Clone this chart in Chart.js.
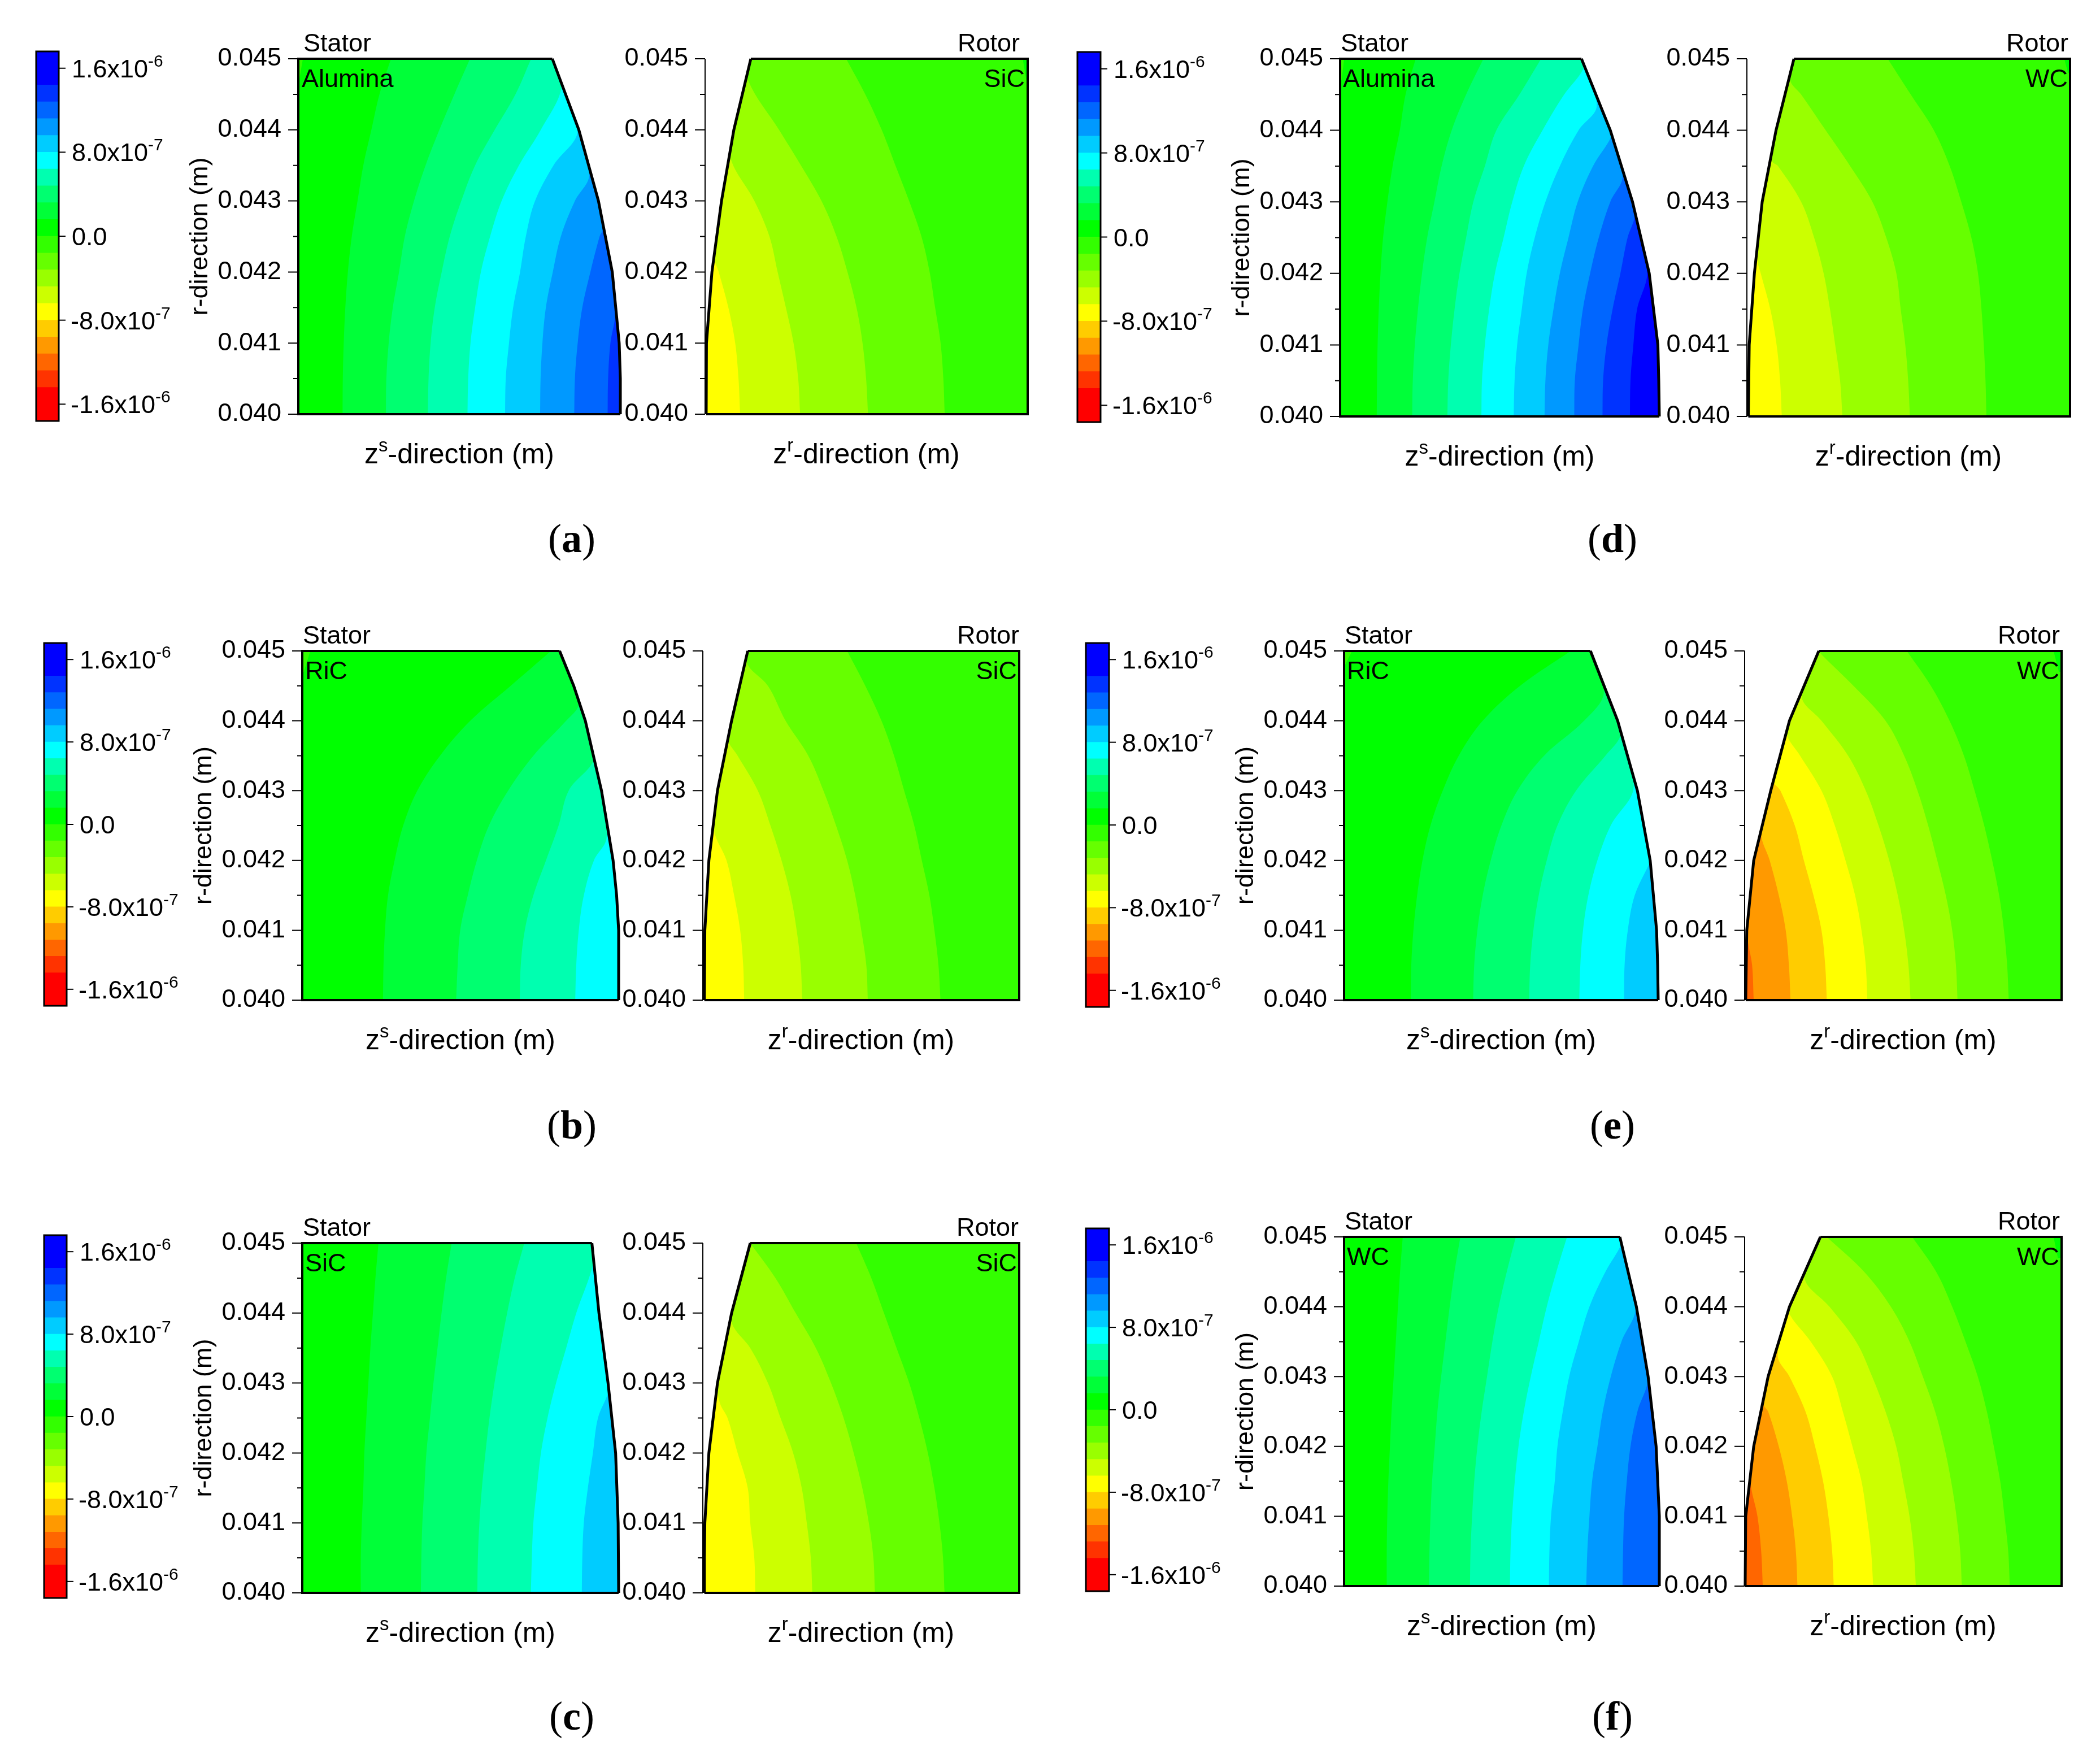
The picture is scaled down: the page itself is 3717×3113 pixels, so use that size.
<!DOCTYPE html>
<html>
<head>
<meta charset="utf-8">
<title>Contours</title>
<script src="https://cdn.jsdelivr.net/npm/chart.js@4"></script>
<style>
html, body { margin: 0; background: #fff; }
#page { position: relative; width: 3717px; height: 3113px; overflow: hidden; background: #fff; }
canvas { position: absolute; }
.cap { position: absolute; transform: translate(-50%, -50%); font: 72px "Liberation Serif"; color: #000; }
</style>
</head>
<body>
<div id="page"></div>
<script>
// colour bar, values in units of 1e-6
const barEdges = [-1.76, -1.44, -1.28, -1.12, -0.96, -0.8, -0.64, -0.48, -0.32, -0.16, 0, 0.16, 0.32, 0.48, 0.64, 0.8, 0.96, 1.12, 1.28, 1.44, 1.76];
const barColors = ["#ff0000", "#ff3300", "#ff6600", "#ff9900", "#ffcc00", "#ffff00", "#ccff00", "#99ff00", "#66ff00", "#33ff00", "#00ff00", "#00ff38", "#00ff70", "#00ffb0", "#00ffff", "#00ccff", "#0099ff", "#0066ff", "#0033ff", "#0000ff"];
const barTicks = [-1.6, -0.8, 0, 0.8, 1.6];
const barTickText = [["-1.6x10", "-6"], ["-8.0x10", "-7"], ["0.0", ""], ["8.0x10", "-7"], ["1.6x10", "-6"]];

const rMajor = [0.040, 0.041, 0.042, 0.043, 0.044, 0.045];
const rMinor = [0.0405, 0.0415, 0.0425, 0.0435, 0.0445];

// z has no numbers on the axes, so every panel is read in its own units: [min, max]
// contours are [level, [[z, r], ...]], r ascending
const zStatorA = [68, 1465];
const profileStatorA = [[1465, .040], [1465, .0405], [1460, .041], [1430, .042], [1370, .043], [1285, .044], [1170, .045]];
const contoursStatorA = [
	[1.28, [[1410, .040], [1412, .0405], [1422, .041], [1443, .04141]]],
	[1.12, [[1265, .040], [1268, .0405], [1280, .041], [1300, .0415], [1335, .042], [1375, .0425], [1388, .0426]]],
	[0.96, [[1117, .040], [1119, .0405], [1127, .041], [1142, .0415], [1172, .042], [1207, .0425], [1268, .043], [1330, .04336]]],
	[0.8, [[965, .040], [968, .0405], [982, .041], [1000, .0415], [1030, .042], [1055, .0425], [1095, .043], [1175, .0435], [1280, .044]]],
	[0.64, [[802, .040], [805, .0405], [815, .041], [835, .0415], [860, .042], [900, .0425], [950, .043], [1025, .0435], [1120, .044], [1210, .0446]]],
	[0.48, [[630, .040], [633, .0405], [642, .041], [660, .0415], [690, .042], [725, .0425], [775, .043], [835, .0435], [920, .044], [1010, .0445], [1078, .045]]],
	[0.32, [[448, .040], [450, .0405], [460, .041], [478, .0415], [505, .042], [530, .0425], [570, .043], [620, .0435], [680, .044], [745, .0445], [813, .045]]],
	[0.16, [[260, .040], [261, .0405], [265, .041], [272, .0415], [283, .042], [300, .0425], [325, .043], [350, .0435], [385, .044], [420, .0445], [470, .045]]],
	[0, [[72, .0447], [88, .045]]],
];

const zRotorA = [305, 1483];
const profileRotorA = [[309, .040], [310, .041], [330, .042], [365, .043], [410, .044], [472, .045]];
const contoursRotorA = [
	[-0.64, [[433, .040], [427, .0405], [415, .041], [390, .0415], [355, .042], [340, .0422]]],
	[-0.48, [[652, .040], [645, .0405], [628, .041], [600, .0415], [570, .042], [540, .0425], [485, .043], [398, .0436]]],
	[-0.32, [[900, .040], [893, .0405], [880, .041], [858, .0415], [825, .042], [785, .0425], [730, .043], [655, .0435], [575, .044], [462, .0447]]],
	[-0.16, [[1180, .040], [1175, .0405], [1165, .041], [1145, .0415], [1125, .042], [1095, .0425], [1050, .043], [1000, .0435], [950, .044], [890, .0445], [820, .045]]],
	[0, [[1478, .0447], [1465, .045]]],
];

const zStatorD = [338, 1445];
const profileStatorD = [[1445, .040], [1443, .0405], [1440, .041], [1410, .042], [1352, .043], [1275, .044], [1175, .045]];
const contoursStatorD = [
	[1.44, [[1343, .040], [1345, .0405], [1355, .041], [1368, .0415], [1403, .04203]]],
	[1.28, [[1248, .040], [1250, .0405], [1262, .041], [1283, .0415], [1310, .042], [1335, .0425], [1360, .0428]]],
	[1.12, [[1150, .040], [1152, .0405], [1165, .041], [1180, .0415], [1205, .042], [1235, .0425], [1275, .043], [1318, .04336]]],
	[0.96, [[1047, .040], [1050, .0405], [1060, .041], [1078, .0415], [1100, .042], [1130, .0425], [1162, .043], [1215, .0435], [1277, .0439]]],
	[0.8, [[940, .040], [943, .0405], [952, .041], [968, .0415], [985, .042], [1013, .0425], [1050, .043], [1100, .0435], [1165, .044], [1228, .04434]]],
	[0.64, [[828, .040], [830, .0405], [840, .041], [855, .0415], [875, .042], [905, .0425], [935, .043], [975, .0435], [1040, .044], [1115, .0445], [1180, .04485]]],
	[0.48, [[710, .040], [713, .0405], [722, .041], [735, .0415], [752, .042], [775, .0425], [800, .043], [840, .0435], [880, .044], [960, .0445], [1035, .045]]],
	[0.32, [[588, .040], [590, .0405], [597, .041], [608, .0415], [622, .042], [640, .0425], [665, .043], [690, .0435], [725, .044], [775, .0445], [835, .045]]],
	[0.16, [[465, .040], [466, .0405], [468, .041], [472, .0415], [478, .042], [487, .0425], [502, .043], [520, .0435], [545, .044], [565, .0445], [600, .045]]],
	[0, [[343, .0447], [352, .045]]],
];

const zRotorD = [377, 1497];
const profileRotorD = [[382, .040], [385, .041], [403, .042], [430, .043], [478, .044], [540, .045]];
const contoursRotorD = [
	[-0.64, [[498, .040], [492, .0405], [480, .041], [458, .0415], [425, .042], [415, .04217]]],
	[-0.48, [[708, .040], [700, .0405], [683, .041], [665, .0415], [643, .042], [610, .0425], [565, .043], [485, .0435], [465, .04357]]],
	[-0.32, [[942, .040], [936, .0405], [926, .041], [910, .0415], [895, .042], [860, .0425], [812, .043], [735, .0435], [650, .044], [565, .0445], [527, .0447]]],
	[-0.16, [[1207, .040], [1204, .0405], [1198, .041], [1190, .0415], [1178, .042], [1155, .0425], [1120, .043], [1080, .0435], [1025, .044], [945, .0445], [865, .045]]],
	[0, [[1490, .0448], [1477, .045]]],
];

const zStatorB = [62, 689];
const profileStatorB = [[689, .040], [689, .041], [685, .0415], [678, .042], [655, .043], [623, .044], [600, .0445], [572, .045]];
const contoursStatorB = [
	[0.64, [[603, .040], [605, .0405], [610, .041], [620, .0415], [640, .042], [665, .04232]]],
	[0.48, [[493, .040], [495, .0405], [503, .041], [520, .0415], [545, .042], [570, .0425], [590, .043], [640, .04346]]],
	[0.32, [[367, .040], [370, .0405], [375, .041], [390, .0415], [408, .042], [432, .0425], [470, .043], [520, .0435], [585, .044], [610, .04423]]],
	[0.16, [[222, .040], [223, .0405], [226, .041], [232, .0415], [245, .042], [262, .0425], [290, .043], [335, .0435], [395, .044], [475, .0445], [555, .045]]],
	[0, [[65, .0447], [78, .045]]],
];

const zRotorB = [856, 1483];
const profileRotorB = [[859, .040], [860, .041], [868, .042], [885, .043], [913, .044], [945, .045]];
const contoursRotorB = [
	[-0.64, [[938, .040], [936, .0405], [930, .041], [918, .0415], [903, .042], [878, .04244]]],
	[-0.48, [[1053, .040], [1050, .0405], [1042, .041], [1030, .0415], [1012, .042], [990, .0425], [965, .043], [925, .0435], [905, .04374]]],
	[-0.32, [[1183, .040], [1180, .0405], [1170, .041], [1158, .0415], [1142, .042], [1120, .0425], [1095, .043], [1065, .0435], [1020, .044], [985, .0445], [945, .0448]]],
	[-0.16, [[1327, .040], [1323, .0405], [1315, .041], [1305, .0415], [1290, .042], [1275, .0425], [1255, .043], [1235, .0435], [1210, .044], [1178, .0445], [1142, .045]]],
];

const zStatorE = [190, 779];
const profileStatorE = [[779, .040], [778, .0405], [776, .041], [764, .042], [740, .043], [703, .044], [652, .045]];
const contoursStatorE = [
	[0.8, [[715, .040], [716, .0405], [722, .041], [735, .0415], [762, .04195]]],
	[0.64, [[631, .040], [633, .0405], [638, .041], [648, .0415], [665, .042], [690, .0425], [733, .04305]]],
	[0.48, [[537, .040], [539, .0405], [545, .041], [555, .0415], [570, .042], [590, .0425], [625, .043], [680, .0435], [708, .04378]]],
	[0.32, [[432, .040], [434, .0405], [440, .041], [450, .0415], [465, .042], [485, .0425], [515, .043], [565, .0435], [640, .044], [677, .0444]]],
	[0.16, [[315, .040], [316, .0405], [320, .041], [327, .0415], [337, .042], [352, .0425], [375, .043], [405, .0435], [450, .044], [520, .0445], [615, .045]]],
	[0, [[192, .0448], [205, .045]]],
];

const zRotorE = [941, 1535];
const profileRotorE = [[943, .040], [945, .041], [958, .042], [990, .043], [1025, .044], [1080, .045]];
const contoursRotorE = [
	[-1.12, [[958, .040], [955, .0405], [948, .0408]]],
	[-0.96, [[1027, .040], [1024, .0405], [1018, .041], [1005, .0415], [988, .042], [972, .04239]]],
	[-0.8, [[1095, .040], [1092, .0405], [1085, .041], [1070, .0415], [1052, .042], [1035, .0425], [1008, .043], [995, .04315]]],
	[-0.64, [[1171, .040], [1168, .0405], [1160, .041], [1148, .0415], [1130, .042], [1110, .0425], [1085, .043], [1045, .0435], [1020, .0438]]],
	[-0.48, [[1252, .040], [1248, .0405], [1240, .041], [1228, .0415], [1212, .042], [1192, .0425], [1168, .043], [1135, .0435], [1085, .044], [1048, .04435]]],
	[-0.32, [[1340, .040], [1337, .0405], [1330, .041], [1318, .0415], [1302, .042], [1285, .0425], [1265, .043], [1240, .0435], [1205, .044], [1145, .0445], [1085, .04495]]],
	[-0.16, [[1436, .040], [1433, .0405], [1427, .041], [1418, .0415], [1405, .042], [1390, .0425], [1372, .043], [1352, .0435], [1325, .044], [1290, .0445], [1245, .045]]],
	[0, [[1530, .0447], [1520, .045]]],
];

const zStatorC = [62, 689];
const profileStatorC = [[689, .040], [688, .041], [683, .042], [668, .043], [650, .044], [636, .045]];
const contoursStatorC = [
	[0.8, [[616, .040], [617, .0405], [620, .041], [628, .0415], [638, .042], [648, .0425], [668, .04286]]],
	[0.64, [[515, .040], [517, .0405], [520, .041], [527, .0415], [535, .042], [548, .0425], [565, .043], [585, .0435], [605, .044], [638, .0447]]],
	[0.48, [[409, .040], [410, .0405], [413, .041], [418, .0415], [425, .042], [433, .0425], [443, .043], [455, .0435], [468, .044], [483, .0445], [502, .045]]],
	[0.32, [[297, .040], [298, .0405], [300, .041], [304, .0415], [308, .042], [315, .0425], [322, .043], [330, .0435], [338, .044], [347, .0445], [358, .045]]],
	[0.16, [[178, .040], [178, .0405], [180, .041], [183, .0415], [185, .042], [189, .0425], [193, .043], [197, .0435], [202, .044], [207, .0445], [213, .045]]],
];

const zRotorC = [856, 1483];
const profileRotorC = [[859, .040], [859, .0405], [860, .041], [868, .042], [885, .043], [913, .044], [950, .045]];
const contoursRotorC = [
	[-0.64, [[960, .040], [958, .0405], [950, .041], [945, .0415], [925, .042], [905, .0425], [890, .04271]]],
	[-0.48, [[1073, .040], [1070, .0405], [1062, .041], [1052, .0415], [1035, .042], [1010, .0425], [985, .043], [950, .0435], [917, .0438]]],
	[-0.32, [[1197, .040], [1194, .0405], [1185, .041], [1172, .0415], [1155, .042], [1135, .0425], [1110, .043], [1080, .0435], [1040, .044], [1000, .0445], [950, .045]]],
	[-0.16, [[1335, .040], [1332, .0405], [1325, .041], [1315, .0415], [1302, .042], [1285, .0425], [1265, .043], [1240, .0435], [1215, .044], [1190, .0445], [1160, .045]]],
];

const zStatorF = [190, 781];
const profileStatorF = [[781, .040], [781, .041], [775, .042], [760, .043], [738, .044], [707, .045]];
const contoursStatorF = [
	[1.12, [[712, .040], [713, .0405], [715, .041], [720, .0415], [727, .042], [740, .0425], [760, .043]]],
	[0.96, [[644, .040], [646, .0405], [650, .041], [655, .0415], [665, .042], [675, .0425], [690, .043], [710, .0435], [737, .044]]],
	[0.8, [[574, .040], [575, .0405], [578, .041], [585, .0415], [590, .042], [600, .0425], [612, .043], [630, .0435], [650, .044], [680, .0445], [710, .0449]]],
	[0.64, [[501, .040], [502, .0405], [505, .041], [510, .0415], [517, .042], [527, .0425], [540, .043], [555, .0435], [570, .044], [588, .0445], [608, .045]]],
	[0.48, [[426, .040], [427, .0405], [430, .041], [434, .0415], [440, .042], [448, .0425], [458, .043], [468, .0435], [480, .044], [495, .0445], [512, .045]]],
	[0.32, [[349, .040], [350, .0405], [352, .041], [355, .0415], [360, .042], [365, .0425], [372, .043], [380, .0435], [388, .044], [397, .0445], [408, .045]]],
	[0.16, [[270, .040], [270, .0405], [271, .041], [273, .0415], [276, .042], [279, .0425], [283, .043], [287, .0435], [291, .044], [295, .0445], [300, .045]]],
];

const zRotorF = [941, 1535];
const profileRotorF = [[942, .040], [943, .041], [958, .042], [985, .043], [1025, .044], [1083, .045]];
const contoursRotorF = [
	[-1.12, [[975, .040], [972, .0405], [965, .041], [952, .0415]]],
	[-0.96, [[1040, .040], [1037, .0405], [1030, .041], [1020, .0415], [1005, .042], [985, .0425], [977, .0426]]],
	[-0.8, [[1108, .040], [1105, .0405], [1098, .041], [1088, .0415], [1073, .042], [1055, .0425], [1025, .043], [1003, .0433]]],
	[-0.64, [[1182, .040], [1178, .0405], [1170, .041], [1160, .0415], [1143, .042], [1125, .0425], [1105, .043], [1065, .0435], [1027, .04387]]],
	[-0.48, [[1262, .040], [1258, .0405], [1250, .041], [1238, .0415], [1225, .042], [1205, .0425], [1180, .043], [1150, .0435], [1100, .044], [1053, .04442]]],
	[-0.32, [[1348, .040], [1345, .0405], [1338, .041], [1328, .0415], [1315, .042], [1298, .0425], [1275, .043], [1250, .0435], [1215, .044], [1165, .0445], [1095, .045]]],
	[-0.16, [[1438, .040], [1435, .0405], [1428, .041], [1420, .0415], [1408, .042], [1395, .0425], [1378, .043], [1355, .0435], [1330, .044], [1300, .0445], [1255, .045]]],
	[0, [[1528, .0447], [1520, .045]]],
];

const font = "45px 'Liberation Sans'";
const supFont = "30px 'Liberation Sans'";
const zFont = "50px 'Liberation Sans'";
const zSupFont = "33px 'Liberation Sans'";
const page = document.getElementById("page");

function bandColor(v) {
	for (let i = 0; i < barColors.length; i++) {
		if (v >= barEdges[i] && v < barEdges[i + 1]) return barColors[i];
	}
	return barColors[barColors.length - 1];
}

function toXY(pts) {
	return pts.map((p) => ({ x: p[0], y: p[1] }));
}

function addCanvas(left, top, w, h) {
	const c = document.createElement("canvas");
	c.width = w;
	c.height = h;
	c.style.left = left + "px";
	c.style.top = top + "px";
	page.appendChild(c);
	return c.getContext("2d");
}

// a contour that stops on the profile carries on along it, so its fill reaches the top.
// Filler wants the pixels ascending along the index axis, hence top of the plot first.
function fillPath(pts, profile) {
	const last = pts[pts.length - 1][1];
	return pts.concat(profile.filter((p) => p[1] > last)).reverse();
}

function drawBar(rect) {
	const [l, t, r, b] = rect;
	const sup = {
		id: "barLabels",
		afterDraw(chart) {
			const ctx = chart.ctx;
			const y = chart.scales.y;
			const a = chart.chartArea;
			ctx.save();
			ctx.strokeStyle = "#000";
			ctx.lineWidth = 3;
			ctx.strokeRect(a.left, a.top, a.right - a.left, a.bottom - a.top);
			ctx.textAlign = "left";
			ctx.textBaseline = "alphabetic";
			ctx.fillStyle = "#000";
			barTicks.forEach((v, i) => {
				const py = y.getPixelForValue(v);
				ctx.lineWidth = 2;
				ctx.beginPath();
				ctx.moveTo(a.right, py);
				ctx.lineTo(a.right + 12, py);
				ctx.stroke();
				const [main, exp] = barTickText[i];
				ctx.font = font;
				const tx = a.right + (v < 0 ? 21 : 23);
				ctx.fillText(main, tx, py + 16);
				const w = ctx.measureText(main).width;
				ctx.font = supFont;
				ctx.fillText(exp, tx + w, py - 3);
			});
			ctx.restore();
		},
	};
	const ctx = addCanvas(l - 4, t - 4, r - l + 270, b - t + 8);
	new Chart(ctx, {
		type: "bar",
		data: {
			labels: [""],
			datasets: barColors.map((c, i) => ({
				data: [[barEdges[i], barEdges[i + 1]]],
				backgroundColor: c,
				borderWidth: 0,
				grouped: false,
				barPercentage: 1,
				categoryPercentage: 1,
			})),
		},
		options: {
			responsive: false,
			animation: false,
			layout: { padding: { left: 4, top: 4, bottom: 4, right: 266 } },
			plugins: { legend: { display: false }, tooltip: { enabled: false } },
			scales: {
				x: { display: false },
				y: { display: false, min: barEdges[0], max: barEdges[barEdges.length - 1] },
			},
		},
		plugins: [sup],
	});
}

function drawPanel(side, rect, zRange, profile, contours, tag, nudge) {
	const [l, t, r, b] = rect;
	const [sideDx, tagDx] = nudge || [0, 0];
	const stator = side === "Stator";
	const axisW = stator ? 200 : 150;
	const pad = { top: 60, right: 12, bottom: 110 };
	const sign = stator ? -0.08 : 0.08;
	const [zMin, zMax] = zRange;
	// "start"/"end" pick the wrong edge on a horizontal value scale, so name the value
	const inner = { value: stator ? zMin : zMax };
	const outer = { value: stator ? zMax : zMin };

	const layer = (pts, color, target, tension) => ({
		data: toXY(pts),
		fill: { target: target },
		backgroundColor: color,
		borderWidth: 0,
		pointRadius: 0,
		tension: tension,
	});

	// first in the list is drawn last
	const datasets = [];
	const low = profile[0];
	const high = profile[profile.length - 1];
	const rBottom = rMajor[0];
	const rTop = rMajor[rMajor.length - 1];
	const frame = stator
		? [[low[0], rBottom], [zMin, rBottom], [zMin, rTop], [high[0], rTop]]
		: [[low[0], rBottom], [zMax, rBottom], [zMax, rTop], [high[0], rTop]];
	datasets.push({ data: toXY(profile), fill: false, borderColor: "#000", borderWidth: 5, pointRadius: 0, tension: 0, clip: 8 });
	datasets.push({ data: toXY(frame), fill: false, borderColor: "#000", borderWidth: 4, borderJoinStyle: "miter", pointRadius: 0, tension: 0, clip: 8 });
	datasets.push(layer(profile.slice().reverse(), "#fff", outer, 0));
	for (let i = contours.length - 1; i >= 0; i--) {
		const [level, pts] = contours[i];
		datasets.push(layer(fillPath(pts, profile), bandColor(level + sign), inner, 0.35));
	}
	datasets.push(layer(profile.slice().reverse(), bandColor(contours[0][0] - sign), inner, 0));

	const marks = {
		id: "marks",
		afterDraw(chart) {
			const ctx = chart.ctx;
			const y = chart.scales.y;
			const a = chart.chartArea;
			ctx.save();
			ctx.strokeStyle = "#000";
			ctx.fillStyle = "#000";
			ctx.lineWidth = 2;
			ctx.beginPath();
			ctx.moveTo(a.left, y.getPixelForValue(rTop));
			ctx.lineTo(a.left, y.getPixelForValue(rBottom));
			rMajor.forEach((v) => {
				ctx.moveTo(a.left, y.getPixelForValue(v));
				ctx.lineTo(a.left - 18, y.getPixelForValue(v));
			});
			rMinor.forEach((v) => {
				ctx.moveTo(a.left, y.getPixelForValue(v));
				ctx.lineTo(a.left - 9, y.getPixelForValue(v));
			});
			ctx.stroke();

			ctx.font = font;
			ctx.textBaseline = "alphabetic";
			ctx.textAlign = stator ? "left" : "right";
			const tx = stator ? a.left + 1 : a.right - 3;
			ctx.fillText(side, tx + sideDx, a.top - 13);
			ctx.fillText(tag, (stator ? a.left + 5 : a.right - 4) + tagDx, a.top + 50);

			// z title with its superscript
			const parts = ["z", stator ? "s" : "r", "-direction (m)"];
			ctx.textAlign = "left";
			ctx.font = zFont;
			const w0 = ctx.measureText(parts[0]).width;
			const w2 = ctx.measureText(parts[2]).width;
			ctx.font = zSupFont;
			const w1 = ctx.measureText(parts[1]).width;
			let x = (a.left + a.right) / 2 - (w0 + w1 + w2) / 2;
			const base = a.bottom + 87;
			ctx.font = zFont;
			ctx.fillText(parts[0], x, base);
			x += w0;
			ctx.font = zSupFont;
			ctx.fillText(parts[1], x, base - 21);
			x += w1;
			ctx.font = zFont;
			ctx.fillText(parts[2], x, base);
			ctx.restore();
		},
	};

	const ctx = addCanvas(l - axisW, t - pad.top, axisW + (r - l) + pad.right, pad.top + (b - t) + pad.bottom);
	new Chart(ctx, {
		type: "line",
		data: { datasets: datasets },
		options: {
			responsive: false,
			animation: false,
			indexAxis: "y",
			layout: { padding: { left: 0, top: pad.top, right: pad.right, bottom: pad.bottom } },
			plugins: { legend: { display: false }, tooltip: { enabled: false } },
			scales: {
				x: { type: "linear", display: false, min: zMin, max: zMax },
				y: {
					type: "linear",
					min: rBottom,
					max: rTop,
					afterFit: (s) => {
						s.width = axisW;
					},
					afterBuildTicks: (s) => {
						s.ticks = rMajor.map((v) => ({ value: v }));
					},
					grid: { display: false, drawTicks: false },
					border: { display: false },
					ticks: {
						autoSkip: false,
						padding: 30,
						color: "#000",
						font: { family: "Liberation Sans", size: 45 },
						callback: (v) => v.toFixed(3),
					},
					title: {
						display: stator,
						text: "r-direction (m)",
						color: "#000",
						padding: 0,
						font: { family: "Liberation Sans", size: 45 },
					},
				},
			},
		},
		plugins: [marks],
	});
}

function caption(letter, x, y) {
	const d = document.createElement("div");
	d.className = "cap";
	d.style.left = x + "px";
	d.style.top = y + "px";
	d.innerHTML = "(<b>" + letter + "</b>)";
	page.appendChild(d);
}

drawBar([64, 91, 104, 745]);
drawPanel("Stator", [528, 104, 1098, 733], zStatorA, profileStatorA, contoursStatorA, "Alumina", [8, 1]);
drawPanel("Rotor", [1248, 104, 1819, 733], zRotorA, profileRotorA, contoursRotorA, "SiC", [-11, -1]);
caption("a", 1012, 953);

drawBar([1907, 92, 1948, 747]);
drawPanel("Stator", [2372, 104, 2937, 737], zStatorD, profileStatorD, contoursStatorD, "Alumina");
drawPanel("Rotor", [3092, 104, 3664, 737], zRotorD, profileRotorD, contoursRotorD, "WC");
caption("d", 2854, 953);

drawBar([78, 1138, 118, 1780]);
drawPanel("Stator", [535, 1152, 1095, 1770], zStatorB, profileStatorB, contoursStatorB, "RiC");
drawPanel("Rotor", [1244, 1152, 1804, 1770], zRotorB, profileRotorB, contoursRotorB, "SiC", [3, 0]);
caption("b", 1012, 1991);

drawBar([1922, 1138, 1963, 1782]);
drawPanel("Stator", [2379, 1152, 2935, 1770], zStatorE, profileStatorE, contoursStatorE, "RiC");
drawPanel("Rotor", [3088, 1152, 3649, 1770], zRotorE, profileRotorE, contoursRotorE, "WC");
caption("e", 2854, 1991);

drawBar([78, 2186, 118, 2828]);
drawPanel("Stator", [535, 2200, 1095, 2819], zStatorC, profileStatorC, contoursStatorC, "SiC");
drawPanel("Rotor", [1244, 2200, 1804, 2819], zRotorC, profileRotorC, contoursRotorC, "SiC", [2, 0]);
caption("c", 1012, 3037);

drawBar([1922, 2174, 1963, 2816]);
drawPanel("Stator", [2379, 2189, 2937, 2807], zStatorF, profileStatorF, contoursStatorF, "WC");
drawPanel("Rotor", [3088, 2189, 3649, 2807], zRotorF, profileRotorF, contoursRotorF, "WC");
caption("f", 2854, 3037);
</script>
</body>
</html>
